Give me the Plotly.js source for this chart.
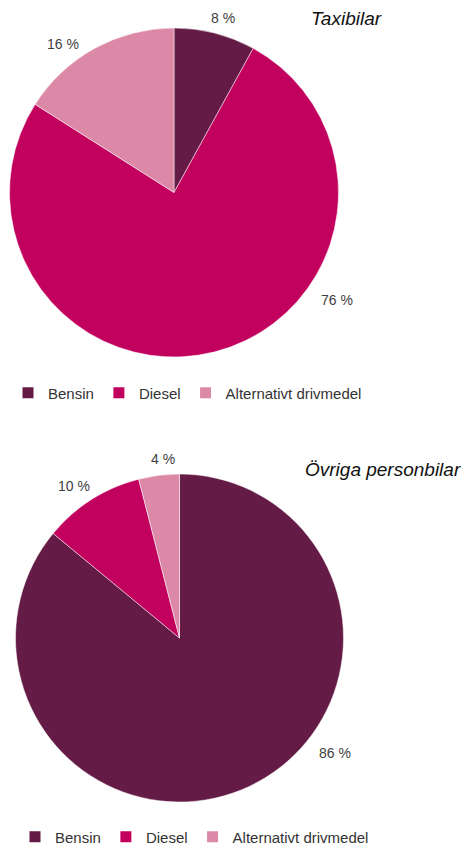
<!DOCTYPE html>
<html>
<head>
<meta charset="utf-8">
<script src="https://cdn.plot.ly/plotly-3.0.1.min.js"></script>
<style>html,body{margin:0;padding:0;background:#fff;}#chart{width:464px;height:847px;}</style>
</head>
<body>
<div id="chart"></div>
<script>
// Data
const categories = ['Bensin', 'Diesel', 'Alternativt drivmedel'];
const taxiValues = [8, 76, 16];
const ovrigaValues = [86, 10, 4];
const chartTitles = ['Taxibilar', 'Övriga personbilar'];
const colors = ['#641b45', '#c2005e', '#dc89a8'];

// Label placement (pixel coords) for percentage labels, per slice
const taxiLabelPos = [[223, 18], [337, 300], [63, 44]];
const ovrigaLabelPos = [[335, 753], [74, 486], [163, 459]];

const W = 464, H = 847;
const px = x => x / W;
const py = y => 1 - y / H;

const common = {
  type: 'pie',
  labels: categories,
  sort: false,
  direction: 'clockwise',
  rotation: 0,
  textinfo: 'none',
  hoverinfo: 'label+percent',
  showlegend: false,
  marker: {colors: colors, line: {color: '#ffffff', width: 0.5}}
};

const traces = [
  Object.assign({}, common, {
    values: taxiValues,
    domain: {x: [px(9), px(339)], y: [py(357), py(28)]}
  }),
  Object.assign({}, common, {
    values: ovrigaValues,
    domain: {x: [px(15), px(344)], y: [py(802), py(474)]}
  })
];

// Legend entries (one set per chart)
['legend', 'legend2'].forEach(lg => {
  categories.forEach((c, i) => {
    traces.push({
      type: 'scatter', mode: 'markers', x: [null], y: [null], name: c,
      legend: lg, showlegend: true, hoverinfo: 'skip',
      marker: {symbol: 'square', size: 11, color: colors[i]}
    });
  });
});

const labelFont = {family: 'Liberation Sans, Arial, sans-serif', size: 14, color: '#404040'};
const annotations = [];
function addLabels(vals, pos) {
  vals.forEach((v, i) => {
    annotations.push({
      xref: 'paper', yref: 'paper', x: px(pos[i][0]), y: py(pos[i][1]),
      xanchor: 'center', yanchor: 'middle', showarrow: false,
      text: v + ' %', font: labelFont
    });
  });
}
addLabels(taxiValues, taxiLabelPos);
addLabels(ovrigaValues, ovrigaLabelPos);

const titleFont = {family: 'Liberation Sans, Arial, sans-serif', size: 19, color: '#111111', style: 'italic'};
annotations.push({xref: 'paper', yref: 'paper', x: px(384), y: py(19), xanchor: 'right', yanchor: 'middle',
  showarrow: false, text: chartTitles[0], font: titleFont});
annotations.push({xref: 'paper', yref: 'paper', x: px(463), y: py(469), xanchor: 'right', yanchor: 'middle',
  showarrow: false, text: chartTitles[1], font: titleFont});

const legendFont = {family: 'Liberation Sans, Arial, sans-serif', size: 15, color: '#333333'};
const legendCommon = {orientation: 'h', xanchor: 'left', yanchor: 'middle', xref: 'container', yref: 'container',
  font: legendFont, itemwidth: 30, tracegroupgap: 0, bgcolor: 'rgba(0,0,0,0)'};
const layout = {
  width: W, height: H,
  margin: {l: 0, r: 0, t: 0, b: 0, autoexpand: false},
  paper_bgcolor: '#ffffff',
  plot_bgcolor: 'rgba(0,0,0,0)',
  xaxis: {visible: false, domain: [0, 0.01], fixedrange: true},
  yaxis: {visible: false, domain: [0, 0.01], fixedrange: true},
  showlegend: true,
  legend: Object.assign({}, legendCommon, {x: px(8), y: py(393)}),
  legend2: Object.assign({}, legendCommon, {x: px(15), y: py(837)}),
  annotations: annotations
};

Plotly.newPlot('chart', traces, layout, {displayModeBar: false, staticPlot: true});
</script>
</body>
</html>
